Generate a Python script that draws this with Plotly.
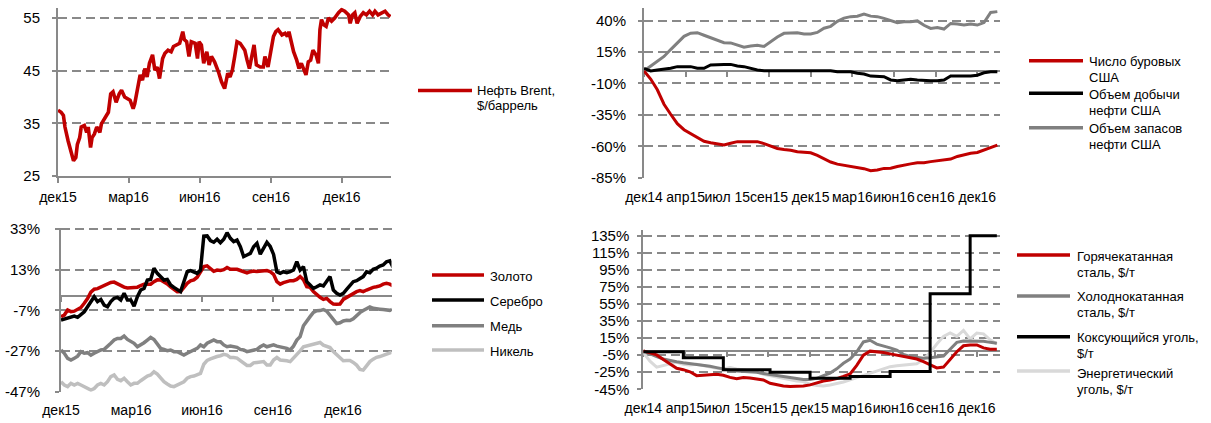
import pandas as pd
import plotly.graph_objects as go

W, H = 1211, 423

# ---------------- DATA ----------------
# Panel 1: Brent, $/bbl (days since 2015-12-01)
brent_days = [0, 4, 7, 9, 13, 17, 20, 23, 25, 28, 30, 34, 37, 39, 42, 44, 47, 50, 54, 56,
              60, 65, 68, 71, 75, 79, 82, 86, 93, 97, 99, 102, 106, 109, 112, 115, 118, 122, 125, 128,
              131, 135, 138, 142, 146, 149, 153, 157, 161, 163, 166, 169, 172, 177, 180, 182, 185, 188, 192, 195,
              198, 202, 207, 211, 215, 219, 222, 225, 228, 231, 235, 238, 241, 244, 247, 250, 253, 256, 261, 265,
              267, 271, 274, 278, 281, 284, 289, 293, 296, 298, 301, 304, 308, 311, 314, 317, 320, 323, 326, 329,
              333, 336, 338, 340, 343, 346, 349, 353, 357, 362, 366, 370, 375, 377, 380, 383, 386, 390, 394, 398,
              402, 406, 409, 413, 418, 422, 426, 429]
brent_usd = [37.5, 37.1, 36.5, 34.3, 31.7, 29.2, 27.9, 28.5, 31.0, 32.3, 34.3, 34.6, 33.3, 34.3, 30.4, 32.3, 33.0, 34.3, 33.3, 34.9,
             35.9, 37.1, 40.6, 41.0, 39.0, 40.6, 41.3, 40.0, 39.4, 37.8, 38.7, 41.3, 44.2, 43.2, 45.4, 43.8, 46.4, 48.0, 45.1, 45.7,
             43.5, 47.3, 48.3, 48.9, 48.6, 49.6, 49.9, 50.2, 52.4, 50.9, 50.5, 47.7, 50.5, 50.2, 47.3, 50.5, 49.9, 46.4, 48.6, 46.1,
             47.7, 46.7, 44.8, 42.9, 41.6, 44.5, 43.8, 45.1, 47.7, 50.5, 50.2, 49.6, 48.9, 47.0, 45.4, 47.7, 49.9, 46.1, 45.7, 45.7,
             47.7, 45.7, 48.3, 51.5, 52.4, 52.8, 51.8, 52.1, 51.5, 52.4, 50.5, 48.6, 47.0, 45.4, 46.4, 45.1, 44.2, 46.7, 47.0, 48.9,
             48.0, 46.4, 52.8, 54.7, 53.7, 53.4, 55.0, 54.4, 55.0, 56.0, 56.6, 56.3, 55.6, 54.0, 55.6, 56.0, 54.0, 55.3, 56.0, 55.6,
             56.3, 55.6, 56.3, 55.6, 56.0, 56.3, 55.6, 55.3]

# Panel 2: metals, % change (regular sampling from 2015-12-01 to 2017-02-04, 101 points)
metals_start, metals_end, metals_n = "2015-12-01", "2017-02-04", 101
gold = [-10.1, -9.3, -6.8, -7.6, -7.4, -6.4, -5.6, -3.5, -1.2, 2.0,
        3.4, 3.7, 4.5, 5.3, 6.1, 6.7, 6.9, 6.0, 5.0, 4.4,
        4.0, 4.0, 4.0, 4.4, 5.2, 5.9, 5.9, 5.9, 7.1, 8.0,
        7.9, 7.1, 6.0, 4.6, 3.2, 2.2, 2.3, 4.2, 6.3, 7.5,
        8.0, 9.3, 12.0, 14.5, 14.9, 13.5, 12.2, 12.8, 12.6, 13.0,
        14.1, 13.2, 13.2, 13.2, 12.6, 12.2, 11.4, 12.0, 12.3, 12.1,
        12.4, 12.4, 12.6, 12.0, 10.7, 7.1, 5.9, 6.6, 7.1, 7.6,
        7.6, 8.2, 9.6, 8.0, 4.6, 4.3, 2.2, 0.5, -0.6, -1.6,
        -1.1, -2.7, -3.9, -4.0, -3.9, -1.6, -0.6, 0.5, 1.7, 2.2,
        2.7, 2.2, 3.0, 3.8, 4.3, 4.6, 5.0, 5.9, 6.3, 5.9,
        5.0]
silver = [-11.8, -11.4, -10.9, -10.4, -9.8, -10.4, -9.3, -7.7, -5.2, -2.7,
          -0.3, -2.7, -1.6, -4.4, -5.2, -2.7, -1.1, -0.6, -1.9, 1.4,
          -1.9, -1.9, -4.9, -0.3, 3.0, 3.8, 7.9, 8.2, 13.7, 11.2,
          9.6, 7.9, 8.2, 5.5, 4.3, 3.0, 2.2, 7.1, 12.0, 12.5,
          12.0, 11.2, 12.8, 29.5, 29.6, 27.3, 26.5, 28.0, 26.3, 28.0,
          31.2, 28.4, 26.8, 27.6, 24.3, 19.4, 20.2, 21.0, 24.3, 26.0,
          20.6, 23.5, 26.4, 24.4, 20.5, 12.0, 11.2, 12.0, 11.5, 12.0,
          12.8, 16.9, 12.8, 14.5, 7.1, 5.5, 3.8, 4.6, 5.5, 5.0,
          7.1, 9.6, 3.0, 1.4, 0.5, 1.4, 3.3, 5.5, 7.1, 7.6,
          8.7, 9.6, 12.0, 11.5, 13.2, 13.7, 14.8, 15.3, 16.9, 17.4,
          14.1]
copper = [-26.5, -28.1, -30.6, -31.4, -30.6, -29.5, -27.3, -28.1, -27.8, -29.0,
          -28.1, -27.3, -26.5, -26.2, -24.9, -23.2, -21.6, -20.8, -20.8, -19.6,
          -21.3, -22.4, -23.2, -24.9, -24.0, -22.9, -21.6, -20.3, -21.3, -23.2,
          -25.7, -26.2, -26.8, -26.5, -27.3, -27.3, -28.1, -29.0, -28.1, -27.3,
          -26.5, -25.7, -24.0, -24.9, -23.2, -22.4, -21.6, -22.4, -22.4, -24.0,
          -24.9, -24.6, -24.9, -25.2, -26.2, -26.5, -27.3, -26.8, -26.5, -26.2,
          -24.9, -24.0, -24.9, -24.6, -24.0, -24.6, -24.9, -25.2, -25.7, -26.5,
          -24.6, -21.6, -19.9, -14.6, -12.1, -10.1, -8.0, -7.2, -7.1, -6.6,
          -7.4, -9.5, -12.1, -13.5, -13.1, -12.2, -11.9, -12.0, -11.1, -9.4,
          -8.1, -7.1, -6.0, -5.3, -6.0, -6.4, -6.4, -6.6, -6.9, -7.0,
          -6.5]
nickel = [-42.1, -43.7, -44.5, -42.9, -43.7, -42.9, -43.7, -44.5, -45.4, -46.2,
          -45.4, -43.7, -42.9, -43.7, -42.1, -39.6, -38.8, -40.9, -41.6, -40.4,
          -42.1, -43.7, -42.9, -42.9, -41.6, -40.4, -39.3, -38.8, -37.2, -38.3,
          -40.4, -42.1, -43.2, -44.2, -44.5, -43.7, -42.9, -42.1, -40.4, -39.6,
          -39.3, -38.8, -38.0, -33.5, -31.6, -30.9, -30.2, -29.7, -29.3, -28.6,
          -29.0, -30.2, -30.2, -30.5, -31.7, -32.8, -34.1, -34.1, -32.8, -32.6,
          -32.2, -32.2, -33.9, -33.9, -31.4, -30.2, -31.4, -31.4, -31.8, -32.2,
          -30.6, -29.0, -26.9, -24.9, -24.5, -24.1, -23.6, -23.2, -22.8, -24.1,
          -24.5, -25.3, -27.3, -29.0, -30.6, -31.8, -31.7, -31.7, -32.6, -33.9,
          -36.0, -36.4, -34.3, -32.2, -31.0, -30.1, -29.7, -29.2, -28.4, -27.9,
          -27.3]

# Panel 3: US oil, % change (category axis, sample index)
oil_rigs = [0, -6.5, -15, -26.5, -34.5, -42, -46.8, -50, -53.4, -56,
            -57.2, -57.8, -59, -57.6, -56.3, -56.3, -56.3, -56.3, -57.9, -60,
            -61.7, -62.5, -63.1, -64.4, -65.1, -65.2, -67.3, -69.9, -72.5, -74.2,
            -75, -75.8, -76.9, -77.8, -79.4, -78.8, -77.6, -77.5, -76.1, -74.8,
            -74, -73.1, -73.1, -72.2, -71.4, -70.8, -70.2, -68.1, -66.8, -65.5,
            -64.9, -62.8, -60.6, -59]
oil_prod = [2, 0, 0.8, 1.3, 2.1, 3.4, 3.4, 3.4, 2.1, 2.1,
            4.7, 5.2, 5.2, 5.2, 3.9, 3.4, 2.1, 0.8, 0.2, 0.2,
            0.2, 0.2, 0.2, 0.2, 0.2, 0.2, 0.2, 0.2, 0.2, -0.6,
            -0.6, -0.6, -1.9, -2.5, -4.1, -4.1, -4.6, -7.2, -7.8, -7.2,
            -6.6, -7.2, -7.8, -7.8, -7.8, -7.2, -4.1, -4.1, -4.1, -4.1,
            -3.4, -1.5, -0.6, -0.6]
oil_stocks = [0, 4, 8, 11.5, 17, 22.5, 27.5, 30, 30.4, 28.4,
              26.5, 24, 22.5, 22.3, 20.4, 18.9, 19.9, 20.5, 19.5, 23.5,
              27, 29.9, 29.9, 30.3, 29.4, 29.4, 30.6, 34, 35.5, 39.5,
              42, 43.2, 43.5, 45.2, 43.6, 43.2, 41.8, 40, 38.4, 39.2,
              39.2, 39.8, 36.3, 33.8, 34.6, 33.3, 37.8, 37.3, 36.5, 37.3,
              36.5, 38.5, 46.5, 47.2]

# Panel 4: steel & coal, % change (category axis, sample index)
steel_hr = [0, -2.5, -4.7, -10, -15.5, -20.4, -22, -24.5, -29, -28.5,
            -28, -27.5, -28.5, -31, -32.5, -31.3, -31.8, -32.8, -34, -37.9,
            -39.7, -41, -41.8, -41.8, -41.2, -39.8, -37.2, -35.3, -34, -32.5,
            -30, -27, -17, -5, -0.3, -1, -2, -3.5, -5, -6.5,
            -8, -9.5, -12.5, -16, -20, -19, -10, -1, 6, 7,
            7, 3.5, 2, 2]
steel_cr = [0, -3.5, -6.6, -9.5, -11.3, -12.6, -13.9, -14.9, -15.7, -16.8,
            -18, -19.6, -21.4, -22.7, -23.5, -24, -24.6, -25.1, -26.6, -27.9,
            -29, -30.5, -31.8, -32.9, -33.6, -33.4, -32.1, -29, -26, -21,
            -14.5, -9.5, -1, 10.5, 12.5, 8, 6, 3.5, 1, -4,
            -6.5, -8, -8.7, -8, -6.8, -6, 2, 10, 11.6, 11.6,
            11.6, 11.2, 10, 9]
coal_coking = [-1, -1, -1, -1, -1, -1, -8, -8, -8, -8,
               -8, -8, -22, -22, -22, -22, -22, -22, -22, -25,
               -25, -25, -25, -25, -25, -32, -32, -32, -32, -32,
               -32, -30, -30, -30, -30, -30, -30, -24, -24, -24,
               -24, -24, -24, 67, 67, 67, 67, 67, 67, 135,
               135, 135, 135, 135]
coal_thermal = [-2, -12, -19, -17, -14.5, -13.4, -15.7, -16.5, -15.7, -17.3,
                -18.5, -20.4, -21.2, -19.6, -21.2, -22.3, -23.5, -24.3, -27.4, -29,
                -30.2, -32.1, -34, -35.2, -36, -39, -40.5, -41, -40, -38.5,
                -36.5, -34, -31.5, -29, -26.2, -23.5, -21, -18.5, -17.5, -16.5,
                -15.7, -15, -10, -2, 8, 17, 21, 17, 24, 14,
                21, 20, 13, 8]

# Tick labels
left_tick_days = [0, 91, 183, 275, 366]
left_tick_labels = ["дек15", "мар16", "июн16", "сен16", "дек16"]
right_tick_labels = ["дек14", "апр15", "июл 15", "сен15", "дек15", "мар16", "июн16", "сен16", "дек16"]
right_samples_per_label = 6.25

brent_name = ["Нефть Brent,", "$/баррель"]
metal_names = [["Золото"], ["Серебро"], ["Медь"], ["Никель"]]
oil_names = [["Число буровых", "США"], ["Объем добычи", "нефти США"], ["Объем запасов", "нефти США"]]
steel_names = [["Горячекатанная", "сталь, $/т"], ["Холоднокатанная", "сталь, $/т"],
               ["Коксующийся уголь,", "$/т"], ["Энергетический", "уголь, $/т"]]

# ---------------- STYLE ----------------
RED, BLACK, GREY, LGREY, LLGREY = "#C00000", "#000000", "#808080", "#BFBFBF", "#D9D9D9"
AXIS = "#898989"
FONT = "Liberation Sans, Arial, sans-serif"

base = pd.Timestamp("2015-12-01")
brent_dates = base + pd.to_timedelta(brent_days, unit="D")
metal_dates = pd.date_range(metals_start, metals_end, periods=metals_n)
left_tick_dates = base + pd.to_timedelta(left_tick_days, unit="D")
right_tickvals = [i * right_samples_per_label for i in range(len(right_tick_labels))]


def dx(a, b):
    return [a / W, b / W]


def dy(top, bottom):
    return [1 - bottom / H, 1 - top / H]


fig = go.Figure()

# Panel 1
fig.add_trace(go.Scatter(x=brent_dates, y=brent_usd, mode="lines", name=" ".join(brent_name),
                         line=dict(color=RED, width=3.6), xaxis="x", yaxis="y"))
# Panel 2
for vals, col, nm in zip([nickel, copper, gold, silver], [LGREY, GREY, RED, BLACK],
                         ["Никель", "Медь", "Золото", "Серебро"]):
    fig.add_trace(go.Scatter(x=metal_dates, y=vals, mode="lines", name=nm,
                             line=dict(color=col, width=3.5), xaxis="x2", yaxis="y2"))
# Panel 3
for vals, col, nm in zip([oil_stocks, oil_prod, oil_rigs], [GREY, BLACK, RED], oil_names):
    fig.add_trace(go.Scatter(x=list(range(len(vals))), y=vals, mode="lines", name=" ".join(nm),
                             line=dict(color=col, width=3), xaxis="x3", yaxis="y3"))
# Panel 4
for vals, col, nm, shp in zip([coal_thermal, steel_cr, steel_hr, coal_coking],
                              [LLGREY, GREY, RED, BLACK],
                              [steel_names[3], steel_names[1], steel_names[0], steel_names[2]],
                              ["linear", "linear", "linear", "hv"]):
    fig.add_trace(go.Scatter(x=list(range(len(vals))), y=vals, mode="lines", name=" ".join(nm),
                             line=dict(color=col, width=3, shape=shp), xaxis="x4", yaxis="y4"))

# helper traces for the zero-line axes
for xa, ya in [("x5", "y2"), ("x6", "y3"), ("x7", "y4")]:
    fig.add_trace(go.Scatter(x=[None], y=[None], xaxis=xa, yaxis=ya, showlegend=False, hoverinfo="skip"))

panels = {
    1: dict(x=dx(58, 391), y=dy(7.5, 176), yr=[25, 57], yt=[25, 35, 45, 55], suf="", stand=9),
    2: dict(x=dx(61, 391.5), y=dy(228, 391.7), yr=[-47, 33.5], yt=[-47, -27, -7, 13, 33], suf="%", stand=12),
    3: dict(x=dx(644, 1000), y=dy(8.1, 177.7), yr=[-85, 50], yt=[-85, -60, -35, -10, 15, 40], suf="%", stand=9),
    4: dict(x=dx(643.3, 999.5), y=dy(229.7, 389.3), yr=[-45, 142], yt=list(range(-45, 136, 20)), suf="%", stand=5),
}

tickfont = dict(family=FONT, size=14, color="#000")
ytickfont = dict(family=FONT, size=15, color="#000")

for i, p in panels.items():
    s = "" if i == 1 else str(i)
    fig.layout["yaxis" + s] = dict(
        domain=p["y"], range=p["yr"], anchor="x" + s, tickvals=p["yt"],
        ticktext=[f"{v}{p['suf']}" for v in p["yt"]],
        showgrid=True, gridcolor=AXIS, gridwidth=1.6, griddash="9px,5px",
        showline=True, linecolor=AXIS, linewidth=2, ticks="outside", ticklen=4,
        tickcolor=AXIS, tickwidth=1.5, zeroline=False, tickfont=ytickfont,
        ticklabelstandoff=p["stand"], automargin=False, fixedrange=True)

date_range_1 = [base, base + pd.Timedelta(days=429.7)]
date_range_2 = [base, base + pd.Timedelta(days=428.9)]
right_range = [0, 53.4]

fig.layout.xaxis = dict(domain=panels[1]["x"], anchor="y", type="date", range=date_range_1,
                        tickvals=left_tick_dates, ticktext=left_tick_labels, showline=True,
                        linecolor=AXIS, linewidth=2, ticks="outside", ticklen=5, tickcolor=AXIS,
                        tickwidth=1.5, showgrid=False, zeroline=False, tickfont=tickfont,
                        ticklabelstandoff=2, tickangle=0, automargin=False, fixedrange=True)
fig.layout.xaxis2 = dict(domain=panels[2]["x"], anchor="y2", type="date", range=date_range_2,
                         tickvals=left_tick_dates, ticktext=left_tick_labels, showline=False, ticks="",
                         showgrid=False, zeroline=False, tickfont=tickfont, ticklabelstandoff=8,
                         tickangle=0, automargin=False, fixedrange=True)
for s in ["3", "4"]:
    fig.layout["xaxis" + s] = dict(domain=panels[int(s)]["x"], anchor="y" + s, type="linear",
                                   range=right_range, tickvals=right_tickvals, ticktext=right_tick_labels,
                                   showline=False, ticks="", showgrid=False, zeroline=False,
                                   tickfont=tickfont, ticklabelstandoff=9, tickangle=0, automargin=False,
                                   fixedrange=True)


def zero_pos(p):
    d0, d1 = p["y"]
    lo, hi = p["yr"]
    return d0 + (0 - lo) / (hi - lo) * (d1 - d0)


for ax, over, pn, typ, rng, tv in [("xaxis5", "x2", 2, "date", date_range_2, left_tick_dates),
                                   ("xaxis6", "x3", 3, "linear", right_range, right_tickvals),
                                   ("xaxis7", "x4", 4, "linear", right_range, right_tickvals)]:
    fig.layout[ax] = dict(overlaying=over, anchor="free", position=zero_pos(panels[pn]), type=typ,
                          domain=panels[pn]["x"], range=rng, tickvals=tv, showticklabels=False,
                          ticks="outside", ticklen=5, tickcolor=AXIS, tickwidth=1.5,
                          showline=True, linecolor=AXIS, linewidth=2, showgrid=False, zeroline=False,
                          layer="below traces", automargin=False, fixedrange=True)

# ---------------- LEGENDS ----------------
shapes, annots = [], []


def legend(x0, x1, tx, entries):
    for ly, lines, col, tys in entries:
        shapes.append(dict(type="line", xref="paper", yref="paper", x0=x0 / W, x1=x1 / W,
                           y0=1 - ly / H, y1=1 - ly / H, line=dict(color=col, width=3.5)))
        for t, ty in zip(lines, tys):
            annots.append(dict(text=t, xref="paper", yref="paper", x=tx / W, y=1 - ty / H,
                               xanchor="left", yanchor="middle", showarrow=False,
                               font=dict(family=FONT, size=13, color="#000")))


legend(418, 472, 475, [(90.5, brent_name, RED, [91, 105.5])])
legend(432, 484, 488, [(275, metal_names[0], RED, [276]),
                       (300, metal_names[1], BLACK, [301]),
                       (325.7, metal_names[2], GREY, [326.5]),
                       (350, metal_names[3], LGREY, [351])])
legend(1029, 1083, 1087, [(60.7, oil_names[0], RED, [61.7, 77.5]),
                          (93.3, oil_names[1], BLACK, [94.3, 110.7]),
                          (127.7, oil_names[2], GREY, [128.3, 144.5])])
legend(1017, 1070, 1075, [(255, steel_names[0], RED, [256, 272.7]),
                          (296, steel_names[1], GREY, [296.5, 312.5]),
                          (336.7, steel_names[2], BLACK, [337, 353]),
                          (371, steel_names[3], LLGREY, [373.3, 389.5])])

fig.update_layout(template="none", width=W, height=H, margin=dict(l=0, r=0, t=0, b=0, pad=0),
                  showlegend=False, plot_bgcolor="white", paper_bgcolor="white",
                  shapes=shapes, annotations=annots, hovermode=False,
                  font=dict(family=FONT, size=13, color="#000"))

fig.write_html("out.html", config={"displayModeBar": False, "staticPlot": False},
               post_script="document.body.style.margin='0';document.body.style.overflow='hidden';")
